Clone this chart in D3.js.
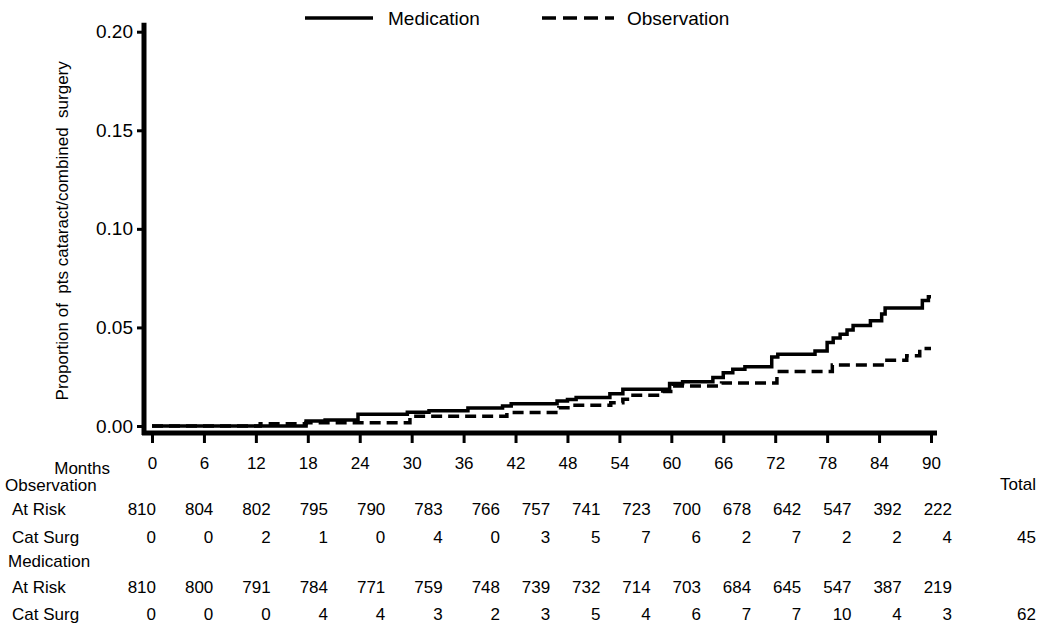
<!DOCTYPE html>
<html>
<head>
<meta charset="utf-8">
<script src="https://cdn.jsdelivr.net/npm/d3@7"></script>
<style>
  body { margin: 0; background: #fff; }
  svg { display: block; font-family: "Liberation Sans", Arial, sans-serif; }
  text { fill: #000; }
</style>
</head>
<body>
<svg width="1051" height="634"></svg>
<script>
// cumulative proportion with cataract/combined surgery (step points)
const medMonths = [0, 17.8, 20, 23.8, 29.5, 32, 36.5, 40.5, 41.5, 46.8, 48, 49, 52.9, 54.4, 59.8, 61.3, 64.8, 66, 67.1, 68.5, 71.6, 72.3, 76.6, 78, 78.7, 79.5, 80.3, 81, 83, 84.3, 84.7, 89, 89.7, 90];
const medValues = [0, 0.0025, 0.003, 0.006, 0.007, 0.0077, 0.0091, 0.0102, 0.0113, 0.0127, 0.0135, 0.0144, 0.0164, 0.0187, 0.0215, 0.0225, 0.0246, 0.027, 0.0288, 0.030, 0.035, 0.0364, 0.038, 0.0424, 0.0446, 0.0466, 0.0487, 0.051, 0.0534, 0.0568, 0.0598, 0.0636, 0.0656, 0.0656];

const obsMonths = [0, 12.5, 17.8, 29.8, 41, 47, 48.6, 53, 54.4, 55.2, 59, 60.2, 65.8, 72.2, 78.6, 84.7, 87.2, 88.7, 90];
const obsValues = [0, 0.0012, 0.0017, 0.005, 0.0068, 0.0093, 0.0105, 0.0118, 0.0136, 0.0156, 0.0175, 0.0203, 0.0218, 0.0276, 0.031, 0.0334, 0.0356, 0.0393, 0.0393];

// table below the axis
const months = [0, 6, 12, 18, 24, 30, 36, 42, 48, 54, 60, 66, 72, 78, 84, 90];
const obsAtRisk = [810, 804, 802, 795, 790, 783, 766, 757, 741, 723, 700, 678, 642, 547, 392, 222];
const obsCatSurg = [0, 0, 2, 1, 0, 4, 0, 3, 5, 7, 6, 2, 7, 2, 2, 4];
const medAtRisk = [810, 800, 791, 784, 771, 759, 748, 739, 732, 714, 703, 684, 645, 547, 387, 219];
const medCatSurg = [0, 0, 0, 4, 4, 3, 2, 3, 5, 4, 6, 7, 7, 10, 4, 3];
const obsTotal = 45;
const medTotal = 62;

const yTicks = [0, 0.05, 0.10, 0.15, 0.20];

const svg = d3.select('svg');

const x = d3.scaleLinear().domain([0, 90]).range([152, 931]);
const y = d3.scaleLinear().domain([0, 0.2]).range([426, 31.7]);
const axisY = 433;

// y axis
const yAxis = svg.append('g')
  .attr('transform', 'translate(144,0)')
  .call(d3.axisLeft(y).tickValues(yTicks).tickFormat(d3.format('.2f')).tickSize(7).tickPadding(4));
yAxis.select('.domain').remove();
yAxis.selectAll('.tick line').attr('stroke', '#000').attr('stroke-width', 3);
yAxis.selectAll('.tick text').attr('font-size', 19).attr('font-family', null);

svg.append('line')
  .attr('x1', 144).attr('x2', 144)
  .attr('y1', y(0.2) - 9).attr('y2', axisY + 2)
  .attr('stroke', '#000').attr('stroke-width', 5);

// x axis
const xAxis = svg.append('g')
  .attr('transform', `translate(0,${axisY})`)
  .call(d3.axisBottom(x).tickValues(months).tickSize(10).tickPadding(14));
xAxis.select('.domain').remove();
xAxis.selectAll('.tick line').attr('stroke', '#000').attr('stroke-width', 3);
xAxis.selectAll('.tick text').attr('font-size', 17).attr('font-family', null);

svg.append('line')
  .attr('x1', 142).attr('x2', 937)
  .attr('y1', axisY).attr('y2', axisY)
  .attr('stroke', '#000').attr('stroke-width', 5);

// y axis title
svg.append('text')
  .attr('transform', `translate(68,${(y(0) + y(0.2)) / 2 + 2}) rotate(-90)`)
  .attr('text-anchor', 'middle')
  .attr('font-size', 17)
  .attr('xml:space', 'preserve')
  .text('Proportion of  pts cataract/combined  surgery');

// curves
const line = d3.line()
  .x(d => x(d[0]))
  .y(d => y(d[1]))
  .curve(d3.curveStepAfter);

svg.append('path')
  .datum(obsMonths.map((m, i) => [m, obsValues[i]]))
  .attr('d', line)
  .attr('fill', 'none')
  .attr('stroke', '#000')
  .attr('stroke-width', 3.5)
  .attr('stroke-dasharray', '11,6');

svg.append('path')
  .datum(medMonths.map((m, i) => [m, medValues[i]]))
  .attr('d', line)
  .attr('fill', 'none')
  .attr('stroke', '#000')
  .attr('stroke-width', 3.5);

// legend
const legend = svg.append('g').attr('font-size', 19);
legend.append('line')
  .attr('x1', 305).attr('x2', 373).attr('y1', 18).attr('y2', 18)
  .attr('stroke', '#000').attr('stroke-width', 3.5);
legend.append('text').attr('x', 388).attr('y', 25).text('Medication');
legend.append('line')
  .attr('x1', 542).attr('x2', 614).attr('y1', 18).attr('y2', 18)
  .attr('stroke', '#000').attr('stroke-width', 3.5)
  .attr('stroke-dasharray', '14,7');
legend.append('text').attr('x', 627).attr('y', 25).text('Observation');

// number-at-risk table
const col = d3.scaleLinear().domain([0, 36, 90]).range([156, 500, 952]);
const table = svg.append('g').attr('font-size', 17).attr('xml:space', 'preserve');

table.append('text').attr('x', 110).attr('y', 474).attr('text-anchor', 'end').text('Months');
table.append('text').attr('x', 5).attr('y', 491).text('Observation');
table.append('text').attr('x', 1036).attr('y', 490).attr('text-anchor', 'end').text('Total');
table.append('text').attr('x', 8).attr('y', 567).text('Medication');

const rows = [
  { label: ' At  Risk', vals: obsAtRisk, yy: 515 },
  { label: 'Cat  Surg', vals: obsCatSurg, yy: 543, total: obsTotal },
  { label: ' At  Risk', vals: medAtRisk, yy: 593 },
  { label: 'Cat  Surg', vals: medCatSurg, yy: 620, total: medTotal }
];

rows.forEach(r => {
  table.append('text').attr('x', 12).attr('y', r.yy).text(r.label);
  table.selectAll(null)
    .data(r.vals)
    .enter()
    .append('text')
    .attr('x', (d, i) => col(months[i]))
    .attr('y', r.yy)
    .attr('text-anchor', 'end')
    .text(d => d);
  if (r.total !== undefined) {
    table.append('text').attr('x', 1036).attr('y', r.yy).attr('text-anchor', 'end').text(r.total);
  }
});
</script>
</body>
</html>
